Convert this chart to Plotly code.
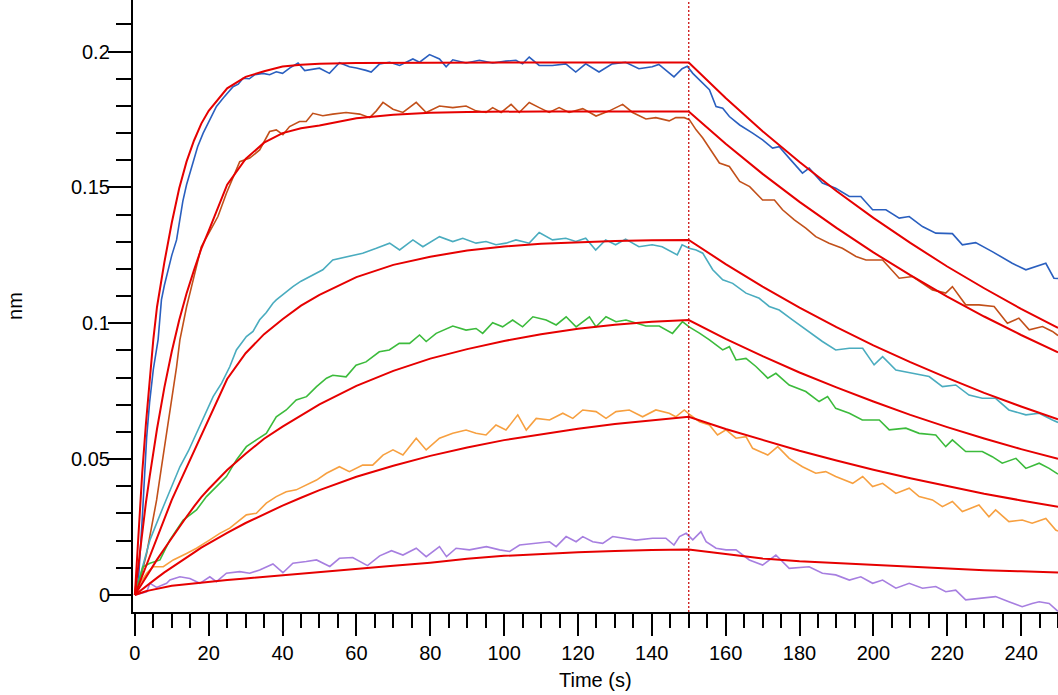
import plotly.graph_objects as go

# ---------------- raw sensorgram data (time s, response nm) ----------------
BLUE_T = [0, 1, 2, 3.2, 4, 5, 6.3, 7.2, 8, 9, 10, 11.3, 12, 13, 14, 14.9, 16, 17, 18.5, 20, 22.1, 24, 26.6, 28, 29.3, 31, 32.5, 34.7, 36.5, 38.3, 40, 42, 44.2, 46, 48, 50, 52.7, 55.4, 58.1, 60, 62.6, 64, 66.3, 69, 71.7, 75.3, 77.1, 79.8, 82.5, 84.3, 86.1, 89.7, 93.3, 96.9, 100.5, 103.2, 105, 106.8, 109.5, 113.1, 116.7, 119.4, 122.1, 125.7, 129.3, 132.9, 136.5, 140.1, 141.9, 146, 148.2, 149.6, 151.1, 152.9, 155.6, 157.4, 159.2, 161, 163.8, 167.3, 170, 172.7, 174.5, 177.2, 180.8, 182.6, 186.2, 189.8, 193.5, 196.6, 199.8, 203.4, 207, 209.7, 213.3, 216.9, 221.4, 224.1, 227.7, 232.2, 237.6, 241.3, 243.9, 246.7, 248.9, 250]
BLUE_V = [0, 0.006, 0.028, 0.058, 0.071, 0.083, 0.094, 0.1086, 0.114, 0.120, 0.125, 0.1307, 0.137, 0.145, 0.151, 0.1553, 0.160, 0.165, 0.170, 0.174, 0.1798, 0.183, 0.1871, 0.188, 0.1902, 0.190, 0.1915, 0.192, 0.1915, 0.1926, 0.192, 0.194, 0.1958, 0.193, 0.1935, 0.1939, 0.192, 0.1959, 0.1944, 0.194, 0.1931, 0.1925, 0.1955, 0.1961, 0.1949, 0.1973, 0.1961, 0.1989, 0.1973, 0.1944, 0.197, 0.1958, 0.1968, 0.1958, 0.1965, 0.1968, 0.1955, 0.198, 0.1949, 0.1949, 0.1955, 0.1925, 0.1955, 0.1925, 0.1955, 0.1961, 0.1937, 0.1944, 0.1953, 0.1907, 0.1937, 0.1946, 0.192, 0.1896, 0.186, 0.1798, 0.1792, 0.1761, 0.173, 0.170, 0.1675, 0.1645, 0.165, 0.1608, 0.1553, 0.1571, 0.1516, 0.1497, 0.1467, 0.1467, 0.1418, 0.1418, 0.1387, 0.1393, 0.1356, 0.1332, 0.133, 0.1289, 0.1297, 0.1264, 0.1221, 0.1197, 0.1209, 0.1221, 0.1166, 0.1165]

BROWN_T = [0, 1.5, 3.2, 4.5, 5.9, 7.2, 8.6, 10, 11.3, 12.2, 14, 15.8, 18, 20.3, 22.5, 24.8, 26.6, 28.4, 31.1, 33.8, 36.5, 38.3, 40.1, 41.9, 44.6, 46.4, 48.2, 50.9, 53.6, 57.2, 60.9, 63.6, 65.4, 67.2, 69.9, 72.6, 76.2, 78.9, 82.5, 86.1, 89.7, 92.4, 95.1, 96.9, 99.2, 101.9, 104.1, 106.8, 109.5, 112.2, 114.9, 117.6, 121.3, 124.9, 128.5, 132.1, 134.8, 138.4, 141.1, 144.7, 146.5, 148.8, 150.2, 152, 153.8, 156.5, 158.3, 161, 163.8, 166.5, 170, 173.2, 175.4, 178.6, 181.7, 184.4, 188, 191.6, 195.3, 198, 202.5, 207, 210.6, 216, 219.6, 221.4, 225, 228.6, 232.7, 236.3, 239.4, 242.2, 245.8, 248.5, 250]
BROWN_V = [0, 0.006, 0.0153, 0.025, 0.035, 0.047, 0.0595, 0.072, 0.084, 0.0939, 0.106, 0.116, 0.1282, 0.1338, 0.1393, 0.1479, 0.154, 0.1595, 0.1608, 0.1638, 0.1706, 0.1712, 0.1694, 0.1724, 0.1743, 0.1743, 0.1773, 0.1764, 0.177, 0.1776, 0.177, 0.1757, 0.1782, 0.1813, 0.1788, 0.1776, 0.1813, 0.1776, 0.18, 0.1794, 0.18, 0.1782, 0.1776, 0.1794, 0.1776, 0.1806, 0.1776, 0.1813, 0.1794, 0.1776, 0.1794, 0.1776, 0.179, 0.1763, 0.1782, 0.1806, 0.1776, 0.1752, 0.1757, 0.1745, 0.1757, 0.1757, 0.1749, 0.1712, 0.1682, 0.1626, 0.159, 0.1577, 0.1522, 0.1503, 0.1454, 0.1454, 0.1418, 0.1381, 0.135, 0.1319, 0.1295, 0.1276, 0.1246, 0.1233, 0.1233, 0.1166, 0.1172, 0.1123, 0.1111, 0.1135, 0.1068, 0.1068, 0.1062, 0.1, 0.1019, 0.0976, 0.0988, 0.097, 0.0955]

CYAN_T = [0, 1.4, 4.1, 7.7, 10, 12.2, 14.5, 16.7, 19, 21.2, 23.5, 25.7, 27.5, 30.2, 32, 33.8, 35.6, 37.4, 38.3, 40.5, 42.8, 45, 47.3, 50.9, 53.6, 58.1, 61.7, 65.4, 69, 71.7, 75.3, 78, 82.5, 86.1, 88.8, 92.4, 95.1, 97.8, 100.5, 103.2, 106.8, 109.5, 113.1, 116.7, 119.4, 122.1, 124.8, 127.5, 130.2, 132.9, 136.5, 140.1, 142.8, 146.9, 148.2, 150.1, 152, 153.8, 156.5, 159.2, 161.9, 165.5, 169.1, 171.8, 174.5, 178.1, 181.7, 186.2, 189.8, 193.5, 197.1, 200.2, 202.5, 206.1, 210.6, 215.1, 218.7, 222.3, 225.9, 229.5, 233.1, 236.7, 241.3, 244.9, 248.5, 250]
CYAN_V = [0, 0.0067, 0.0203, 0.0325, 0.040, 0.0472, 0.053, 0.0595, 0.066, 0.073, 0.078, 0.084, 0.0902, 0.0951, 0.097, 0.1013, 0.104, 0.1074, 0.1086, 0.111, 0.1135, 0.1155, 0.1172, 0.1197, 0.1233, 0.1246, 0.1258, 0.1276, 0.1295, 0.127, 0.1307, 0.1282, 0.1319, 0.1301, 0.1313, 0.1295, 0.1301, 0.1289, 0.1295, 0.1307, 0.1295, 0.1334, 0.1307, 0.1313, 0.1301, 0.1313, 0.127, 0.1307, 0.1289, 0.131, 0.1282, 0.1289, 0.1282, 0.1252, 0.1289, 0.1276, 0.127, 0.1258, 0.1197, 0.116, 0.1147, 0.1111, 0.1092, 0.1062, 0.1049, 0.1013, 0.0976, 0.0933, 0.0902, 0.0908, 0.0908, 0.0847, 0.0877, 0.0828, 0.0816, 0.0804, 0.0767, 0.0773, 0.0736, 0.0724, 0.0724, 0.0681, 0.0663, 0.0669, 0.0644, 0.0635]

GREEN_T = [0, 2.2, 4.1, 6.8, 9.5, 13.1, 16.7, 19.4, 22.1, 24.8, 27.5, 30.2, 32.9, 35.6, 38.3, 41, 43.7, 46.5, 49.2, 51.9, 53.6, 57.2, 59.9, 62.6, 66.2, 68.9, 71.6, 74.4, 77.1, 78.9, 81.6, 86.1, 89.7, 92.4, 94.2, 96.9, 99.6, 102.3, 105, 107.8, 111.4, 114.1, 116.8, 119.5, 123.1, 124.9, 127.6, 130.3, 133, 135.7, 138.4, 142, 145.6, 148.3, 150.1, 153, 155.6, 159.2, 161, 162.8, 165.5, 168.2, 171.4, 173.6, 177.2, 181.7, 185.3, 187.6, 189.8, 193.5, 197, 201.6, 204.3, 208.8, 212.4, 216.9, 219.6, 221.4, 225, 229.5, 232.2, 234.9, 238.6, 241.3, 244.9, 247.6, 249.4, 250]
GREEN_V = [0, 0.0104, 0.0117, 0.0129, 0.0203, 0.0276, 0.0313, 0.0362, 0.0399, 0.0436, 0.0497, 0.0546, 0.0571, 0.0595, 0.0656, 0.0681, 0.0718, 0.073, 0.0767, 0.0798, 0.0809, 0.0803, 0.0846, 0.0858, 0.0895, 0.0902, 0.0926, 0.0926, 0.0957, 0.0933, 0.0963, 0.099, 0.0975, 0.0981, 0.0963, 0.1002, 0.0987, 0.1012, 0.0987, 0.1024, 0.1012, 0.0994, 0.1024, 0.0987, 0.1024, 0.0987, 0.1024, 0.1006, 0.1012, 0.1, 0.099, 0.099, 0.0963, 0.1006, 0.0987, 0.0963, 0.0939, 0.0902, 0.0914, 0.0865, 0.0871, 0.0841, 0.0798, 0.0816, 0.0773, 0.0749, 0.0712, 0.073, 0.0687, 0.0669, 0.0644, 0.0644, 0.0608, 0.0614, 0.0595, 0.0589, 0.0546, 0.0571, 0.0528, 0.0528, 0.0509, 0.0485, 0.0503, 0.0466, 0.0485, 0.0466, 0.0448, 0.0445]

ORANGE_T = [0, 1.4, 3.2, 5, 7.7, 10.4, 14, 16.7, 20.3, 23, 25.7, 28.4, 30.2, 32.9, 35.6, 38.3, 41, 43.7, 46.4, 49.2, 51.9, 55.4, 58.1, 61.7, 64.4, 67.2, 69.9, 72.6, 76.2, 78.9, 82.5, 86.1, 89.7, 92.4, 95.1, 97.8, 100.5, 103.7, 106, 108.7, 112.3, 115.9, 118.6, 121.3, 124.9, 127.6, 130.3, 133.9, 137.5, 141.1, 144.7, 146.5, 148.8, 150.2, 152.9, 155.6, 157.8, 160.1, 162.8, 165.5, 167.3, 171.4, 174.1, 177.2, 180.8, 184.4, 187.1, 189.8, 194.4, 197.1, 199.8, 202.5, 206.1, 209.7, 212.4, 216, 218.7, 221.4, 224.1, 228.6, 231.3, 233.1, 236.7, 240.3, 243, 246.7, 249.4, 250]
ORANGE_V = [0, 0.0043, 0.008, 0.0104, 0.0104, 0.0129, 0.0153, 0.0172, 0.0203, 0.0227, 0.0246, 0.0276, 0.0295, 0.0301, 0.0338, 0.0362, 0.038, 0.0387, 0.0405, 0.0423, 0.0448, 0.0472, 0.0454, 0.0478, 0.0478, 0.0515, 0.0534, 0.0515, 0.0577, 0.0534, 0.0577, 0.0595, 0.0607, 0.0595, 0.0589, 0.0626, 0.0607, 0.0663, 0.0607, 0.065, 0.0644, 0.0669, 0.065, 0.0681, 0.0675, 0.065, 0.0675, 0.0681, 0.0656, 0.0681, 0.0669, 0.0656, 0.0681, 0.0665, 0.0638, 0.0626, 0.0589, 0.0608, 0.0577, 0.0583, 0.054, 0.0515, 0.0546, 0.0503, 0.0472, 0.0448, 0.0454, 0.0436, 0.0411, 0.0436, 0.0399, 0.0411, 0.0374, 0.0393, 0.0362, 0.035, 0.0325, 0.0344, 0.0307, 0.0331, 0.0288, 0.0313, 0.027, 0.0276, 0.0264, 0.0282, 0.0239, 0.0235]

PURPLE_T = [0, 3.2, 4.1, 5.9, 8.6, 9.5, 12.2, 14.9, 17.6, 20.3, 22.1, 24.8, 28.4, 31.1, 33.8, 37.4, 40.1, 42.8, 46.4, 49.2, 52.8, 55.4, 59, 63, 66.3, 69.5, 72.6, 76.2, 78.9, 82.5, 84.4, 87, 90.6, 95.2, 98.8, 101.5, 104.2, 107.8, 112.3, 114.1, 116.8, 119.5, 121.3, 124, 126.7, 129.4, 132.1, 135.7, 140.2, 143.8, 146, 147.5, 149.3, 151.1, 153.3, 154.7, 157.4, 160.1, 162.8, 166.4, 170, 173.6, 177.2, 182.6, 186.2, 189.8, 193.5, 196.6, 199.8, 202.5, 206.1, 209.7, 213.3, 216.9, 219.6, 222.3, 225, 228.6, 233.1, 236.7, 240.3, 243, 244.9, 247.6, 249.4, 250]
PURPLE_V = [0, 0.0012, 0.0043, 0.0028, 0.0043, 0.0055, 0.0067, 0.0061, 0.0043, 0.0067, 0.0049, 0.008, 0.0086, 0.008, 0.0092, 0.0114, 0.0082, 0.0117, 0.0123, 0.0129, 0.0105, 0.0135, 0.0138, 0.0108, 0.0144, 0.0163, 0.0147, 0.0172, 0.0141, 0.0178, 0.0141, 0.0172, 0.0166, 0.0178, 0.0166, 0.016, 0.0184, 0.019, 0.0196, 0.0178, 0.0215, 0.0196, 0.0215, 0.0196, 0.019, 0.0215, 0.0209, 0.0202, 0.0209, 0.0209, 0.0184, 0.0215, 0.0227, 0.0203, 0.0233, 0.0196, 0.0172, 0.0166, 0.0166, 0.0129, 0.011, 0.0147, 0.0098, 0.0104, 0.008, 0.0074, 0.0055, 0.0067, 0.0043, 0.0055, 0.0025, 0.0043, 0.0025, 0.0031, 0.0012, 0.0018, -0.0018, -0.0012, -0.0006, -0.0025, -0.0043, -0.0031, -0.0025, -0.0031, -0.0055, -0.006]

# ---------------- fitted curves ----------------
FIT_T = [0, 1, 2, 3, 4, 5, 6, 8, 10, 12, 14, 16, 18, 20, 25, 30, 35, 40, 45, 50, 60, 70, 80, 90, 100, 110, 120, 130, 140, 150,
         160, 170, 180, 190, 200, 210, 220, 230, 240, 250]
FIT_BLUE = [0, 0.024, 0.045, 0.063, 0.079, 0.094, 0.106, 0.1225, 0.137, 0.1496, 0.1595, 0.1672, 0.1735, 0.1782, 0.1865, 0.1907, 0.1928, 0.1945, 0.1952, 0.1955, 0.1958, 0.1959, 0.196, 0.196, 0.196, 0.196, 0.196, 0.196, 0.196, 0.196,
            0.1829, 0.1707, 0.1594, 0.1487, 0.1388, 0.1296, 0.1209, 0.1129, 0.1053, 0.0983]
FIT_BROWN = [0, 0.0118, 0.0232, 0.034, 0.0435, 0.053, 0.0611, 0.0764, 0.0896, 0.1011, 0.111, 0.1195, 0.1275, 0.134, 0.151, 0.1605, 0.1665, 0.170, 0.1718, 0.1728, 0.1755, 0.1768, 0.1775, 0.1778, 0.178, 0.178, 0.178, 0.178, 0.178, 0.178,
             0.1661, 0.1550, 0.1447, 0.1351, 0.1261, 0.1177, 0.1098, 0.1025, 0.0957, 0.0893]
FIT_CYAN = [0, 0.0035, 0.007, 0.0105, 0.014, 0.0175, 0.021, 0.028, 0.035, 0.041, 0.047, 0.053, 0.059, 0.065, 0.0795, 0.089, 0.096, 0.1015, 0.1065, 0.1105, 0.117, 0.1215, 0.1245, 0.1268, 0.1283, 0.1293, 0.1299, 0.1303, 0.1306, 0.1307,
            0.1218, 0.1135, 0.1058, 0.0986, 0.0919, 0.0857, 0.0799, 0.0744, 0.0694, 0.0647]
FIT_GREEN = [0, 0.0022, 0.0044, 0.0066, 0.0088, 0.011, 0.013, 0.017, 0.021, 0.025, 0.0288, 0.0325, 0.036, 0.039, 0.046, 0.052, 0.0575, 0.062, 0.066, 0.0702, 0.077, 0.0825, 0.087, 0.0905, 0.0935, 0.096, 0.098, 0.0995, 0.1006, 0.1012,
             0.0943, 0.0879, 0.0819, 0.0764, 0.0712, 0.0663, 0.0618, 0.0576, 0.0537, 0.0501]
FIT_ORANGE = [0, 0.0011, 0.0022, 0.0032, 0.0043, 0.0053, 0.0063, 0.0083, 0.0102, 0.0121, 0.0139, 0.0156, 0.0174, 0.019, 0.0229, 0.0265, 0.0298, 0.0329, 0.0358, 0.0386, 0.0435, 0.0476, 0.0512, 0.0543, 0.057, 0.0592, 0.0612, 0.0629, 0.0643, 0.0656,
              0.0611, 0.0570, 0.0531, 0.0495, 0.0461, 0.0430, 0.0401, 0.0373, 0.0348, 0.0325]
FIT_PURPLE = [0, 0.0005, 0.001, 0.0014, 0.0017, 0.002, 0.0023, 0.0029, 0.0034, 0.0037, 0.004, 0.0043, 0.0046, 0.0049, 0.0055, 0.0061, 0.0067, 0.0073, 0.008, 0.0086, 0.0097, 0.0108, 0.0119, 0.0133, 0.0144, 0.0151, 0.0157, 0.0162, 0.0166, 0.0167,
              0.0150, 0.0134, 0.0124, 0.0117, 0.0111, 0.0104, 0.0097, 0.0091, 0.0087, 0.0083]

DISSOC_START = 150
Y_TICKS = [0, 0.05, 0.1, 0.15, 0.2]
Y_TICK_LABELS = ["0", "0.05", "0.1", "0.15", "0.2"]

COLORS = ["#2a5fbf", "#c2501a", "#4aacbf", "#3cbb3c", "#f7a040", "#a77fe0"]
FIT_COLOR = "#e60000"

fig = go.Figure()
raw = [(BLUE_T, BLUE_V), (BROWN_T, BROWN_V), (CYAN_T, CYAN_V), (GREEN_T, GREEN_V), (ORANGE_T, ORANGE_V), (PURPLE_T, PURPLE_V)]
for (t, v), c in zip(raw, COLORS):
    fig.add_trace(go.Scatter(x=t, y=v, mode="lines", line=dict(color=c, width=1.6), showlegend=False))
for f in [FIT_BLUE, FIT_BROWN, FIT_CYAN, FIT_GREEN, FIT_ORANGE, FIT_PURPLE]:
    fig.add_trace(go.Scatter(x=FIT_T, y=f, mode="lines", line=dict(color=FIT_COLOR, width=2), showlegend=False))

fig.add_shape(type="line", x0=DISSOC_START, x1=DISSOC_START, y0=0, y1=1, xref="x", yref="paper",
              line=dict(color="#cc1010", width=1.3, dash="2px,2px"))

font = dict(family="Liberation Sans, Arial, sans-serif", size=20, color="black")

annotations = [
    dict(text="Time (s)", xref="paper", yref="paper", x=0.5, y=-0.111, showarrow=False,
         xanchor="center", yanchor="middle", font=font),
    dict(text="nm", xref="paper", yref="paper", x=-0.1276, y=0.5, showarrow=False, textangle=-90,
         xanchor="center", yanchor="middle", font=font),
]
for val, lab in zip(Y_TICKS, Y_TICK_LABELS):
    annotations.append(dict(text=lab, xref="paper", yref="y", x=-0.0249, y=val, showarrow=False,
                            xanchor="right", yanchor="middle", font=font, borderpad=0, xshift=1))

fig.update_layout(
    width=1058, height=695,
    margin=dict(l=133, r=0, t=0, b=83),
    paper_bgcolor="white", plot_bgcolor="white",
    font=font,
    xaxis=dict(range=[-0.5, 250], showgrid=False, zeroline=False, showline=True, linecolor="black", linewidth=2,
               ticks="outside", ticklen=22, tickwidth=2, tickcolor="black", dtick=20, tick0=0,
               minor=dict(dtick=5, tick0=0, ticks="outside", ticklen=14, tickwidth=2, tickcolor="black", showgrid=False),
               tickfont=font),
    yaxis=dict(range=[-0.00626, 0.219], showgrid=False, zeroline=False, showline=True, linecolor="black", linewidth=2,
               ticks="outside", ticklen=23, tickwidth=2, tickcolor="black", tickvals=Y_TICKS, showticklabels=False,
               minor=dict(dtick=0.01, tick0=0, ticks="outside", ticklen=15, tickwidth=2, tickcolor="black", showgrid=False)),
    annotations=annotations,
)

fig.write_html("out.html")
